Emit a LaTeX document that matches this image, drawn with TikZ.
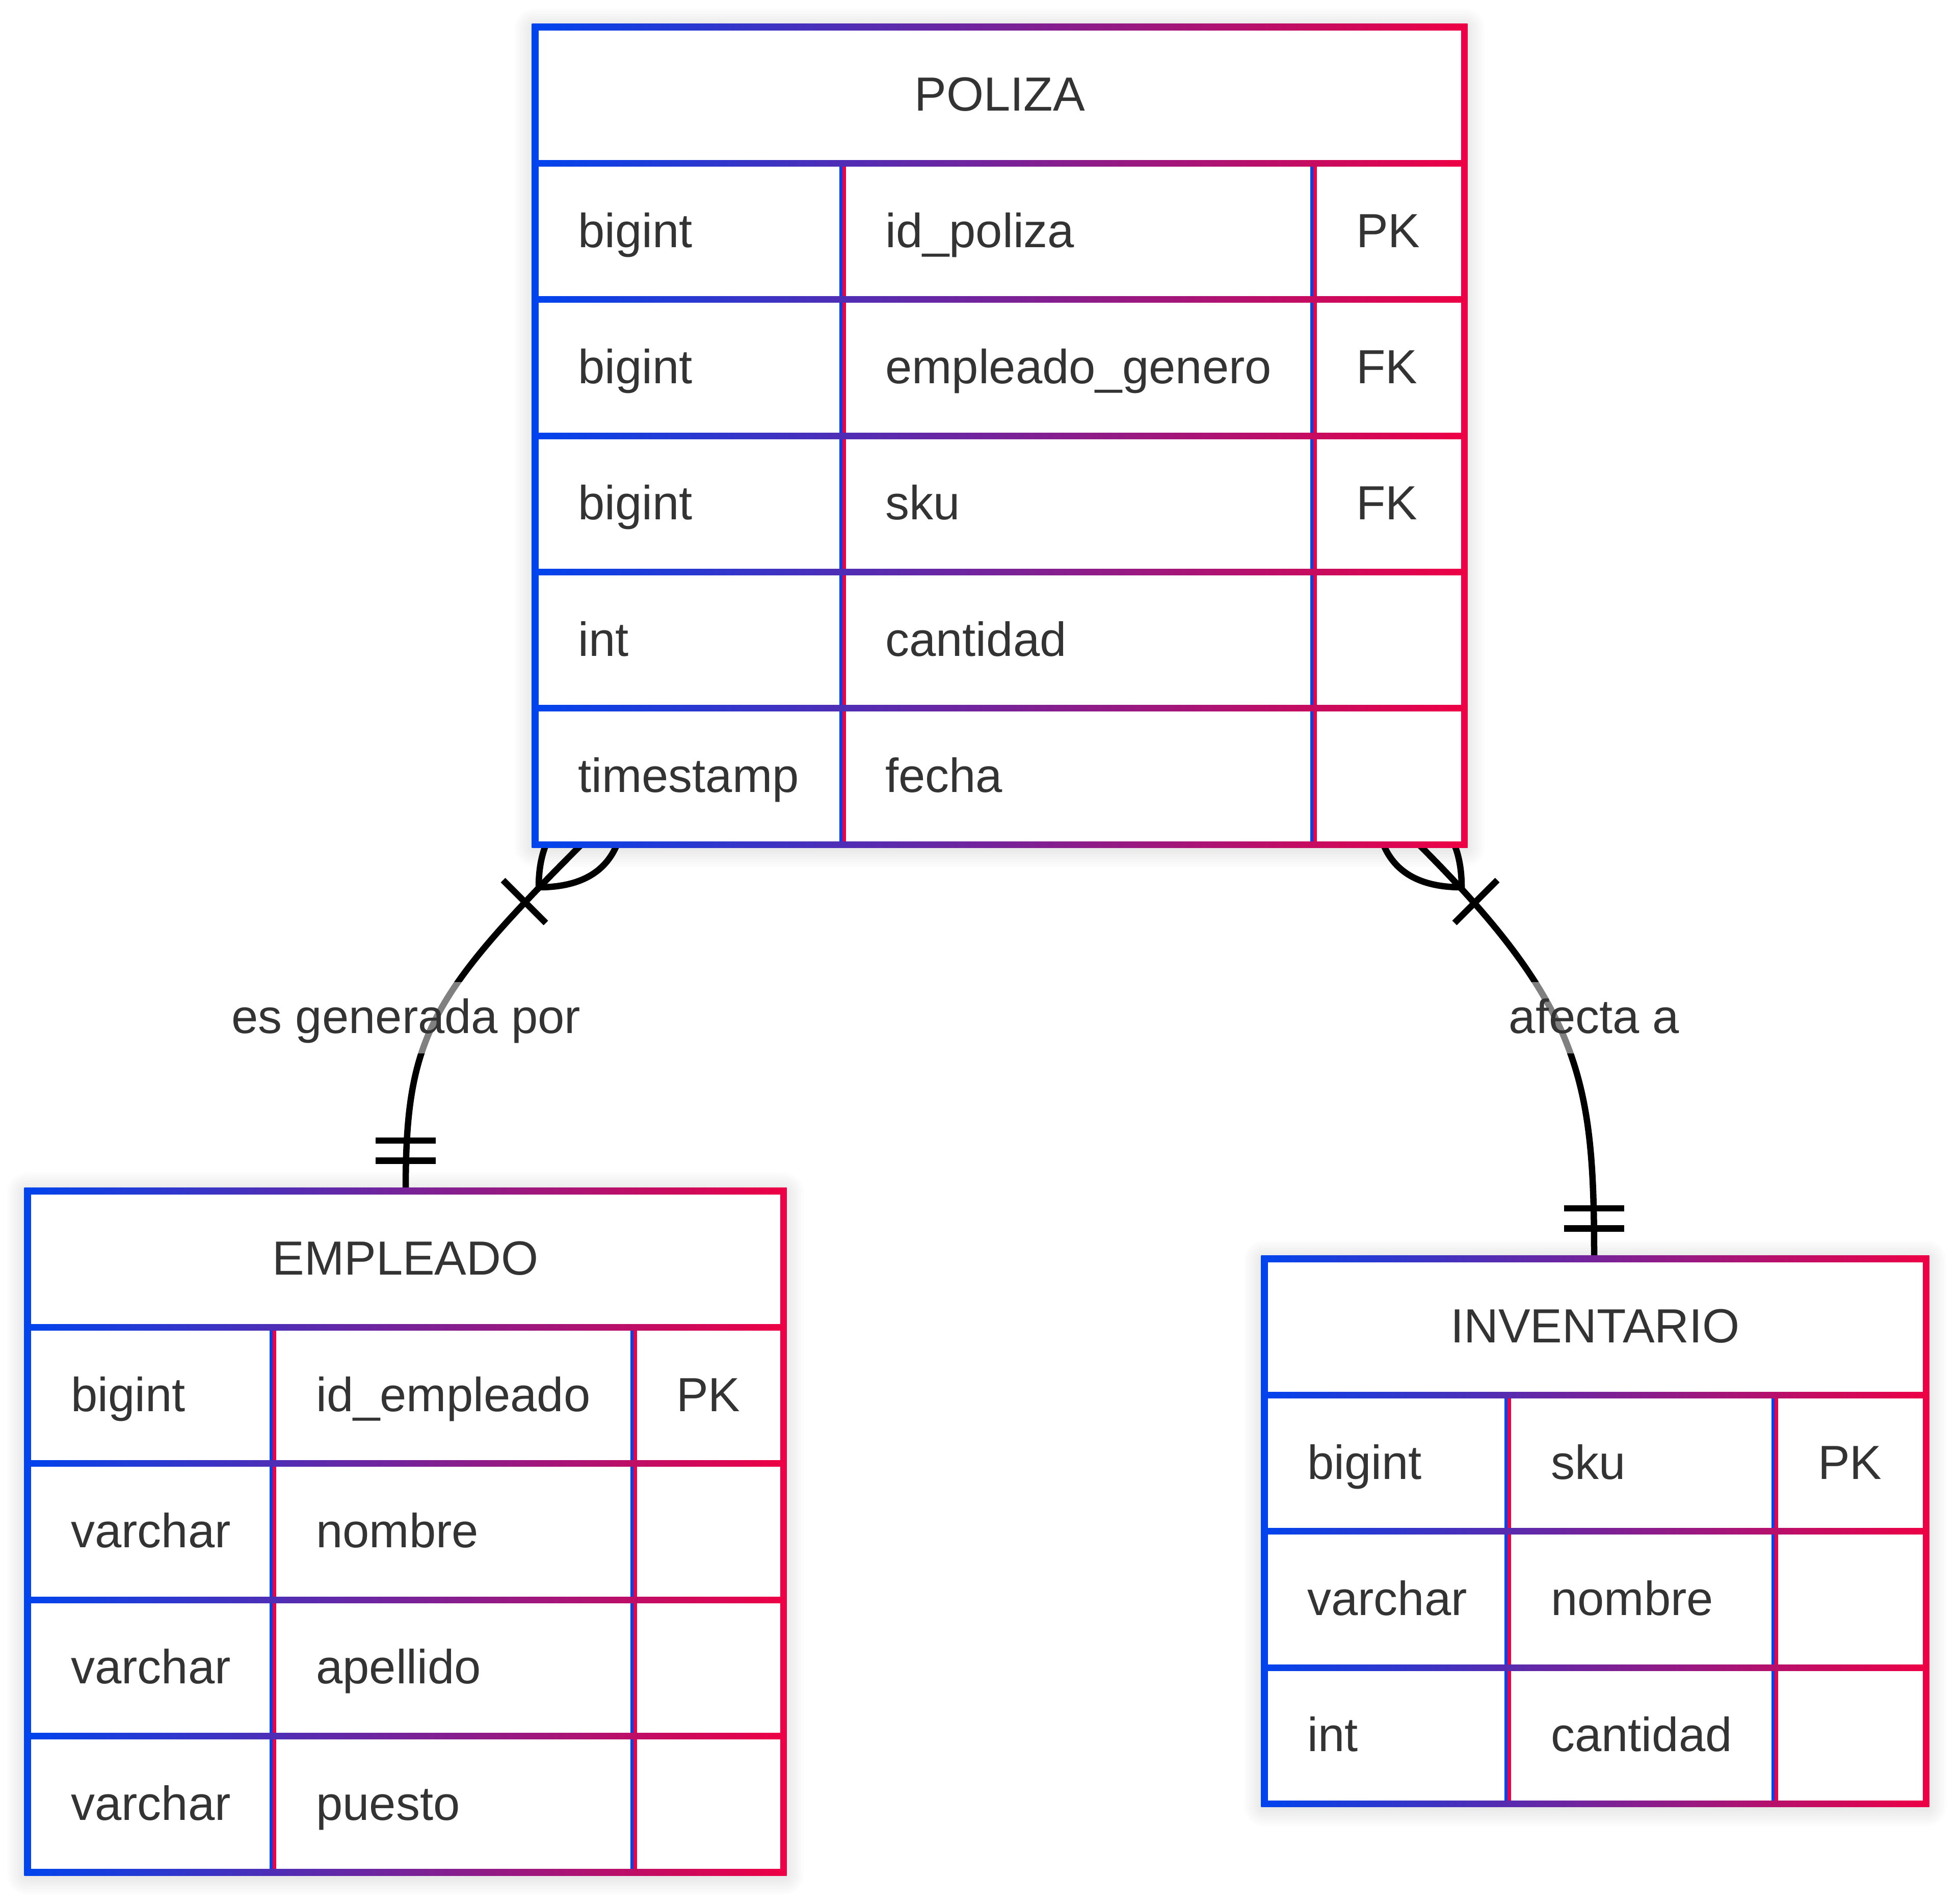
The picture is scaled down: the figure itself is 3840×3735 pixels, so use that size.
\documentclass[tikz,border=0pt]{standalone}
\usepackage{fontspec}
\setmainfont{Liberation Sans}
\usepackage{tikz}
\usepackage{xcolor}
\usetikzlibrary{positioning,calc}
\definecolor{erblue}{RGB}{0, 68, 238}
\definecolor{erred}{RGB}{238, 0, 68}
\definecolor{ertext}{RGB}{51, 51, 51}

\newcommand{\rowh}{267.33}
% entity frame: left, top, right, rows, divider, divider
\newcommand{\erframe}[6]{%
    % Shadow
    \foreach \sh in {5,10,...,40}
        \fill[black,opacity=.012,rounded corners=\sh pt] (#1-\sh,#2-\sh+4) rectangle (#3+\sh,#2+#4*\rowh+\sh+4);
    % Border
    \shade[left color=erblue,right color=erred] (#1-6.5,#2-6.5) rectangle (#3+6.5,#2+#4*\rowh+6.5);
    \foreach \i in {1,...,#4}
        \fill[white] (#1+6.5,#2+\i*\rowh-\rowh+6.5) rectangle (#3-6.5,#2+\i*\rowh-6.5);
    % Columns
    \foreach \i in {2,...,#4}
        \foreach \dv in {#5,#6} {
            \fill[erblue] (\dv-6.5,#2+\i*\rowh-\rowh+6.5) rectangle (\dv,#2+\i*\rowh-6.5);
            \fill[erred] (\dv,#2+\i*\rowh-\rowh+6.5) rectangle (\dv+6.5,#2+\i*\rowh-6.5);
        }
}

\begin{document}
\begin{tikzpicture}[x=1pt,y=-1pt,
    font=\fontsize{94}{113}\selectfont,text=ertext,
    relation/.style={line width=12.5pt,black},
    cell/.style={anchor=base west,inner sep=0pt},
    title/.style={anchor=base,inner sep=0pt},
    rellabel/.style={anchor=base,fill=white,fill opacity=.5,text opacity=1,
        inner xsep=6pt,inner ysep=0pt,text height=100pt,text depth=40pt}]
    \useasboundingbox (0,0) rectangle (3840,3735);

    % Ends
    \coordinate (poliza-s1) at (1141,1657);
    \coordinate (poliza-s2) at (2784,1657);
    \coordinate (empleado-n) at (796,2337);
    \coordinate (inventario-n) at (3128,2470);

    % Relations
    \draw[relation] (poliza-s1) .. controls ($(poliza-s1)+(-300,300)$) and ($(empleado-n)+(0,-300)$) .. (empleado-n);
    \draw[relation] (poliza-s2) .. controls ($(poliza-s2)+(320,320)$) and ($(inventario-n)+(0,-350)$) .. (inventario-n);

    % Crow's feet
    \foreach \cn/\ang in {poliza-s1/-135,poliza-s2/-45} {
        \begin{scope}[shift={(\cn)},rotate=\ang,scale=6.6]
            \draw[relation] (-18,0) .. controls (-6,-12) and (6,-12) .. (18,0) .. controls (6,12) and (-6,12) .. cycle;
            \draw[relation] (24,-9) -- (24,9);
        \end{scope}
    }
    \foreach \cn in {empleado-n,inventario-n} {
        \begin{scope}[shift={(\cn)},rotate=-90,scale=6.6]
            \draw[relation] (-15,-9) -- (-15,9) (-9,-9) -- (-9,9);
        \end{scope}
    }

    % POLIZA
    \erframe{1050}{53}{2873}{6}{1653}{2577}
    \node[title] (poliza) at (1961.5,53+\rowh/2+31) {POLIZA};
    \foreach \ty/\nm/\ky [count=\i] in {bigint/id\_poliza/PK,bigint/empleado\_genero/FK,bigint/sku/FK,int/cantidad/{},timestamp/fecha/{}} {
        \node[cell] (poliza-ty\i) at (1134,53+\i*\rowh+\rowh/2+31) {\ty};
        \node[cell] (poliza-nm\i) at (1737,53+\i*\rowh+\rowh/2+31) {\nm};
        \node[cell] (poliza-ky\i) at (2661,53+\i*\rowh+\rowh/2+31) {\ky};
    }

    % EMPLEADO
    \erframe{54}{2337}{1537}{5}{535}{1243}
    \node[title] (empleado) at (795.5,2337+\rowh/2+31) {EMPLEADO};
    \foreach \ty/\nm/\ky [count=\i] in {bigint/id\_empleado/PK,varchar/nombre/{},varchar/apellido/{},varchar/puesto/{}} {
        \node[cell] (empleado-ty\i) at (139,2337+\i*\rowh+\rowh/2+31) {\ty};
        \node[cell] (empleado-nm\i) at (620,2337+\i*\rowh+\rowh/2+31) {\nm};
        \node[cell] (empleado-ky\i) at (1327,2337+\i*\rowh+\rowh/2+31) {\ky};
    }

    % INVENTARIO
    \erframe{2481}{2470}{3779}{4}{2958}{3482}
    \node[title] (inventario) at (3130,2470+\rowh/2+31) {INVENTARIO};
    \foreach \ty/\nm/\ky [count=\i] in {bigint/sku/PK,varchar/nombre/{},int/cantidad/{}} {
        \node[cell] (inventario-ty\i) at (2565,2470+\i*\rowh+\rowh/2+31) {\ty};
        \node[cell] (inventario-nm\i) at (3043,2470+\i*\rowh+\rowh/2+31) {\nm};
        \node[cell] (inventario-ky\i) at (3567,2470+\i*\rowh+\rowh/2+31) {\ky};
    }

    % Labels
    \node[rellabel] (genera) at (797,2027) {es generada por};
    \node[rellabel] (afecta) at (3128,2027) {afecta a};
\end{tikzpicture}
\end{document}
